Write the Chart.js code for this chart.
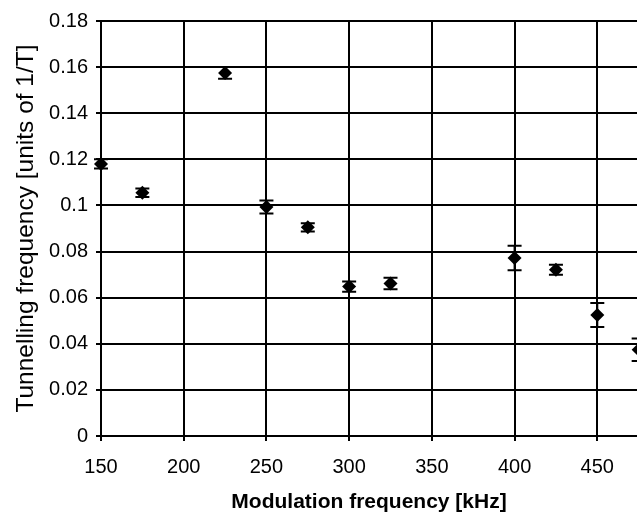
<!DOCTYPE html>
<html>
<head>
<meta charset="utf-8">
<script src="https://cdn.jsdelivr.net/npm/chart.js@4/dist/chart.umd.min.js"></script>
<style>
  html, body { margin: 0; padding: 0; background: #fff; overflow: hidden; }
  canvas { display: block; }
</style>
</head>
<body>
<canvas id="c" width="637" height="515"></canvas>
<script>
// data
const freqKHz = [150, 175, 225, 250, 275, 300, 325, 400, 425, 450, 475];
const tunnelling = [0.118, 0.1055, 0.1575, 0.0993, 0.0905, 0.0648, 0.0661, 0.0772, 0.0721, 0.0525, 0.0374];
const tunnellingErr = [0.002, 0.0018, 0.0025, 0.0028, 0.0018, 0.0022, 0.0025, 0.0053, 0.0022, 0.0052, 0.0049];

const xTicks = [150, 200, 250, 300, 350, 400, 450];
const yTicks = [0, 0.02, 0.04, 0.06, 0.08, 0.1, 0.12, 0.14, 0.16, 0.18];
const yTickLabels = ["0", "0.02", "0.04", "0.06", "0.08", "0.1", "0.12", "0.14", "0.16", "0.18"];

const FONT = "'Liberation Sans', Arial, sans-serif";

// vertical error bars with caps, drawn under the diamonds
const errorBars = {
  id: "errorBars",
  beforeDatasetsDraw(chart) {
    const { ctx, scales: { x, y } } = chart;
    ctx.save();
    ctx.strokeStyle = "#000";
    ctx.lineWidth = 2;
    freqKHz.forEach((f, i) => {
      const px = x.getPixelForValue(f);
      const top = y.getPixelForValue(tunnelling[i] + tunnellingErr[i]);
      const bot = y.getPixelForValue(tunnelling[i] - tunnellingErr[i]);
      ctx.beginPath();
      ctx.moveTo(px, top); ctx.lineTo(px, bot);
      ctx.moveTo(px - 7, top); ctx.lineTo(px + 7, top);
      ctx.moveTo(px - 7, bot); ctx.lineTo(px + 7, bot);
      ctx.stroke();
    });
    ctx.restore();
  }
};

new Chart(document.getElementById("c"), {
  type: "scatter",
  data: {
    datasets: [{
      data: freqKHz.map((f, i) => ({ x: f, y: tunnelling[i] })),
      pointStyle: "rectRot",
      pointRadius: 7,
      pointHoverRadius: 7,
      backgroundColor: "#000",
      borderColor: "#000",
      borderWidth: 0,
      clip: false
    }]
  },
  options: {
    responsive: false,
    animation: false,
    layout: { autoPadding: false, padding: { left: 0, top: 21, right: 0, bottom: 0 } },
    plugins: { legend: { display: false }, tooltip: { enabled: false } },
    scales: {
      x: {
        type: "linear",
        min: 150,
        max: 474,
        afterBuildTicks: s => { s.ticks = xTicks.map(v => ({ value: v })); },
        afterFit: s => { s.height = 79; },
        grid: { color: "#000", lineWidth: 2, tickLength: 5 },
        border: { color: "#000", width: 2 },
        ticks: { color: "#000", font: { family: FONT, size: 20 }, padding: 14, maxRotation: 0, autoSkip: false },
        title: {
          display: true,
          text: "Modulation frequency [kHz]",
          color: "#000",
          font: { family: FONT, size: 21, weight: "bold" },
          padding: { top: 0, bottom: 0 }
        }
      },
      y: {
        min: 0,
        max: 0.18,
        afterBuildTicks: s => { s.ticks = yTicks.map(v => ({ value: v })); },
        afterFit: s => { s.width = 101; },
        grid: { color: "#000", lineWidth: 2, tickLength: 5 },
        border: { color: "#000", width: 2 },
        ticks: {
          color: "#000",
          font: { family: FONT, size: 20 },
          padding: 8,
          callback: v => {
            const k = yTicks.findIndex(t => Math.abs(t - v) < 1e-9);
            return k >= 0 ? yTickLabels[k] : "";
          }
        },
        title: {
          display: true,
          text: "Tunnelling frequency [units of 1/T]",
          color: "#000",
          font: { family: FONT, size: 24.5 },
          padding: { top: 12, bottom: 0 }
        }
      }
    }
  },
  plugins: [errorBars]
});
</script>
</body>
</html>
